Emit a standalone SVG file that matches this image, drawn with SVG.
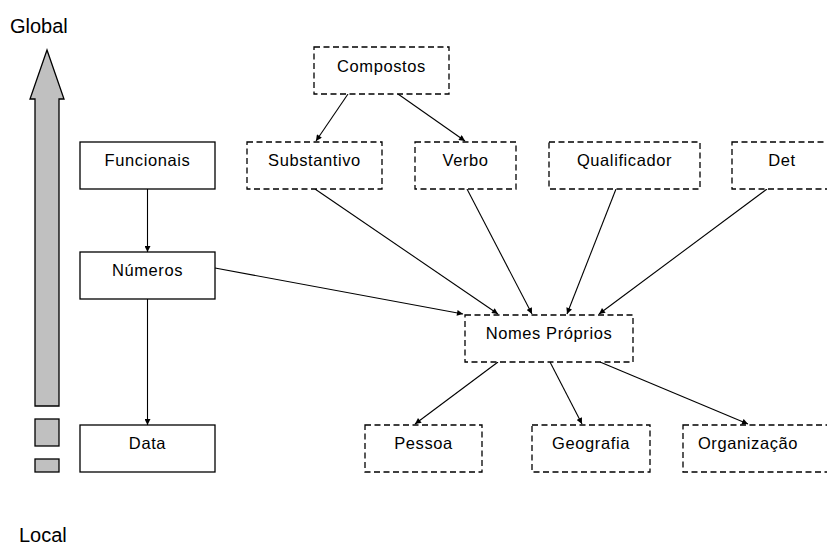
<svg xmlns="http://www.w3.org/2000/svg" width="827" height="545" viewBox="0 0 827 545">
  <defs>
    <style>
      .box { fill: #ffffff; stroke: #000000; stroke-width: 1.3; }
      .dash { fill: #ffffff; stroke: #000000; stroke-width: 1.3; stroke-dasharray: 6 3.5; }
      .lbl { font-family: "Liberation Sans", Arial, sans-serif; font-size: 16.5px; letter-spacing: 0.6px; fill: #000000; text-anchor: middle; }
      .axis { font-family: "Liberation Sans", Arial, sans-serif; font-size: 20px; fill: #000000; }
      .edge { stroke: #000000; stroke-width: 1.1; fill: none; marker-end: url(#tip); }
      .scale { fill: #c0c0c0; stroke: #000000; stroke-width: 1.3; }
    </style>
    <marker id="tip" viewBox="0 0 10 10" refX="10" refY="5" markerWidth="7" markerHeight="6" markerUnits="userSpaceOnUse" orient="auto">
      <path d="M0,0 L10,5 L0,10 z" fill="#000000"/>
    </marker>
  </defs>

  <rect width="827" height="545" fill="#ffffff"/>

  <!-- global/local scale -->
  <g id="scale">
    <text class="axis" x="10" y="33">Global</text>
    <path class="scale" d="M47,50 L64,99 L59,99 L59,406 L35,406 L35,99 L30,99 Z"/>
    <rect class="scale" x="35" y="419" width="24" height="27"/>
    <rect class="scale" x="35" y="459" width="24" height="13"/>
    <text class="axis" x="19" y="542">Local</text>
  </g>

  <!-- connectors -->
  <g id="connectors">
    <line class="edge" x1="147.5" y1="189" x2="147.5" y2="252"/>
    <line class="edge" x1="147.5" y1="299" x2="147.5" y2="425"/>
    <line class="edge" x1="348" y1="94" x2="316" y2="141"/>
    <line class="edge" x1="398" y1="94" x2="465" y2="141"/>
    <line class="edge" x1="215" y1="268" x2="463" y2="314"/>
    <line class="edge" x1="315" y1="189" x2="498" y2="314"/>
    <line class="edge" x1="467" y1="189" x2="532" y2="314"/>
    <line class="edge" x1="616" y1="189" x2="567" y2="314"/>
    <line class="edge" x1="767" y1="189" x2="599" y2="314"/>
    <line class="edge" x1="498" y1="362" x2="415" y2="424"/>
    <line class="edge" x1="550" y1="362" x2="582" y2="424"/>
    <line class="edge" x1="600" y1="362" x2="748" y2="424"/>
  </g>

  <!-- solid nodes -->
  <g id="funcionais">
    <rect class="box" x="80" y="142" width="135" height="47"/>
    <text class="lbl" x="147.5" y="166">Funcionais</text>
  </g>
  <g id="numeros">
    <rect class="box" x="80" y="252" width="135" height="47"/>
    <text class="lbl" x="147.5" y="276">Números</text>
  </g>
  <g id="data">
    <rect class="box" x="80" y="425" width="135" height="47"/>
    <text class="lbl" x="147.5" y="449">Data</text>
  </g>

  <!-- dashed nodes -->
  <g id="compostos">
    <rect class="dash" x="314" y="47" width="135" height="47"/>
    <text class="lbl" x="381.5" y="72">Compostos</text>
  </g>
  <g id="substantivo">
    <rect class="dash" x="247" y="142" width="135" height="47"/>
    <text class="lbl" x="314.5" y="166">Substantivo</text>
  </g>
  <g id="verbo">
    <rect class="dash" x="415" y="142" width="101" height="47"/>
    <text class="lbl" x="465.5" y="166">Verbo</text>
  </g>
  <g id="qualificador">
    <rect class="dash" x="549" y="142" width="151" height="47"/>
    <text class="lbl" x="624.5" y="166">Qualificador</text>
  </g>
  <g id="det">
    <rect class="dash" x="732" y="142" width="102" height="47"/>
    <text class="lbl" x="782" y="166">Det</text>
  </g>
  <g id="nomes-proprios">
    <rect class="dash" x="465" y="315" width="168" height="47"/>
    <text class="lbl" x="549" y="339">Nomes Próprios</text>
  </g>
  <g id="pessoa">
    <rect class="dash" x="365" y="425" width="117" height="47"/>
    <text class="lbl" x="423.5" y="449">Pessoa</text>
  </g>
  <g id="geografia">
    <rect class="dash" x="532" y="425" width="118" height="47"/>
    <text class="lbl" x="591" y="449">Geografia</text>
  </g>
  <g id="organizacao">
    <rect class="dash" x="683" y="425" width="150" height="47"/>
    <text class="lbl" x="748" y="449">Organização</text>
  </g>
</svg>
